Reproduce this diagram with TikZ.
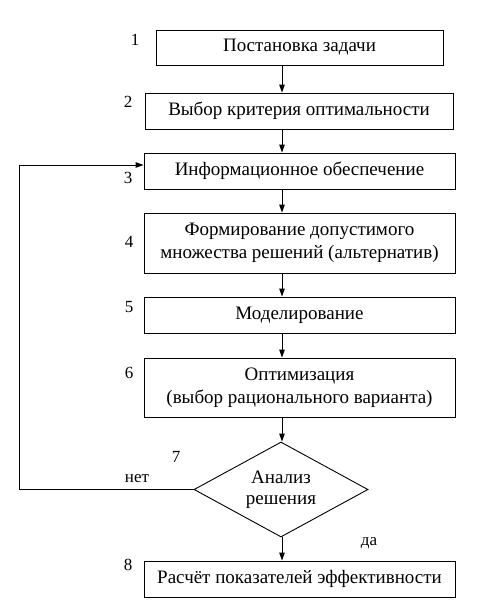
\documentclass[tikz,border=0pt]{standalone}
\usepackage{fontspec}
\setmainfont{Liberation Serif}
\usetikzlibrary{arrows.meta,shapes.geometric}

\begin{document}
\begin{tikzpicture}[x=1pt, y=-1pt, line width=0.9pt, every node/.style={font=\fontsize{19}{23}\selectfont}, >={Triangle[length=8pt,width=5.5pt]},
	stage/.style={draw, align=center, inner sep=2pt, minimum width=311pt},
	num/.style={anchor=center, font=\fontsize{17}{20}\selectfont}]
	\useasboundingbox (0,0) rectangle (479,606);
	% stages
	\node[stage, minimum width=287pt, minimum height=35pt] (b1) at (299.5,47.5) {Постановка задачи};
	\node[stage, minimum width=308pt, minimum height=36pt] (b2) at (299,111) {Выбор критерия оптимальности};
	\node[stage, minimum height=36pt] (b3) at (299.5,171) {Информационное обеспечение};
	\node[stage, minimum height=60pt] (b4) at (299.5,243) {Формирование допустимого\\множества решений (альтернатив)};
	\node[stage, minimum height=36pt] (b5) at (299.5,315) {Моделирование};
	\node[stage, minimum height=59pt] (b6) at (299.5,387.5) {Оптимизация\\(выбор рационального варианта)};
	\node[draw, diamond, aspect=1.83, inner sep=0pt, minimum width=174pt, minimum height=95pt, align=center, font=\fontsize{19}{21}\selectfont] (d7) at (281,489.5) {Анализ\\решения};
	\node[stage, minimum height=36pt] (b8) at (299.5,579) {Расчёт показателей эффективности};
	% numbers
	\foreach \n/\x/\y in {1/135/40, 2/128/102, 3/128/178, 4/129/242, 5/129/307, 6/129/373, 7/176/457, 8/128/565}
		\node[num] (n\n) at (\x,\y) {\n};
	\node[num] (no) at (137,479) {нет};
	\node[num] (yes) at (369,543) {да};
	% connectors
	\coordinate (col) at (282,0);
	\foreach \a/\b in {b1/b2, b2/b3, b3/b4, b4/b5, b5/b6, b6/d7, d7/b8}
		\draw[->] (\a.south -| col) -- (\b.north -| col);
	\coordinate (loop) at (19,165);
	\draw[->] (d7.west) -| (loop) -- (loop -| b3.west);
\end{tikzpicture}
\end{document}
